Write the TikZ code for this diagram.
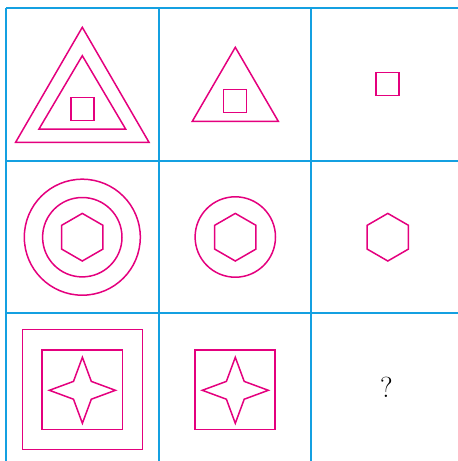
\documentclass[tikz,border=0pt]{standalone}
\usepackage{tikz}

\definecolor{gridblue}{RGB}{20,160,225}
\definecolor{motifpink}{RGB}{228,0,126}

\begin{document}
\begin{tikzpicture}[
  x=1pt, y=-1pt,
  gridline/.style={draw=gridblue, line width=2pt},
  motif/.style={draw=motifpink, line width=1.5pt},
  hexa/.pic={\draw[motif] (90:23.8) \foreach \a in {150,210,270,330,30} {-- (\a:23.8)} -- cycle;},
  fourstar/.pic={\draw[motif] (90:33) -- (45:12.6) -- (0:33) -- (-45:12.6) -- (-90:33) -- (-135:12.6) -- (180:33) -- (135:12.6) -- cycle;}
]
\useasboundingbox (0,0) rectangle (458,461);
\clip (0,0) rectangle (458,461);

% grid
\foreach \x in {6,158.5,311}
  \draw[gridline] (\x,8) -- (\x,461);
\foreach \y in {8,160.5,313}
  \draw[gridline] (6,\y) -- (458,\y);

% row 1: triangles and squares
\draw[motif] (82.3,27.3) -- (149,142.3) -- (15.6,142.3) -- cycle;
\draw[motif] (82.3,55.7) -- (125.6,129) -- (39,129) -- cycle;
\draw[motif] (70.8,97.3) rectangle (93.8,120.3);
\draw[motif] (235.3,47.3) -- (278.3,121.3) -- (192.3,121.3) -- cycle;
\draw[motif] (223.5,89.3) rectangle (246.5,112.3);
\draw[motif] (376,72.5) rectangle (399,95.5);

% row 2: circles and hexagons
\draw[motif] (82.3,237.2) circle[radius=58];
\draw[motif] (82.3,237.2) circle[radius=39.7];
\pic at (82.3,237.2) {hexa};
\draw[motif] (235.3,237) circle[radius=40.2];
\pic at (235.3,237.2) {hexa};
\pic at (387.8,237.2) {hexa};

% row 3: squares and stars
\draw[motif] (22.3,329.7) rectangle (142.3,449.3);
\draw[motif] (42.2,350) rectangle (122.3,429.5);
\pic at (82.4,390.3) {fourstar};
\draw[motif] (195,350) rectangle (275,429.5);
\pic at (235.3,390.3) {fourstar};

\node[inner sep=0pt, font=\fontsize{29}{29}\selectfont] (qmark) at (386.5,387) {?};
\end{tikzpicture}
\end{document}
